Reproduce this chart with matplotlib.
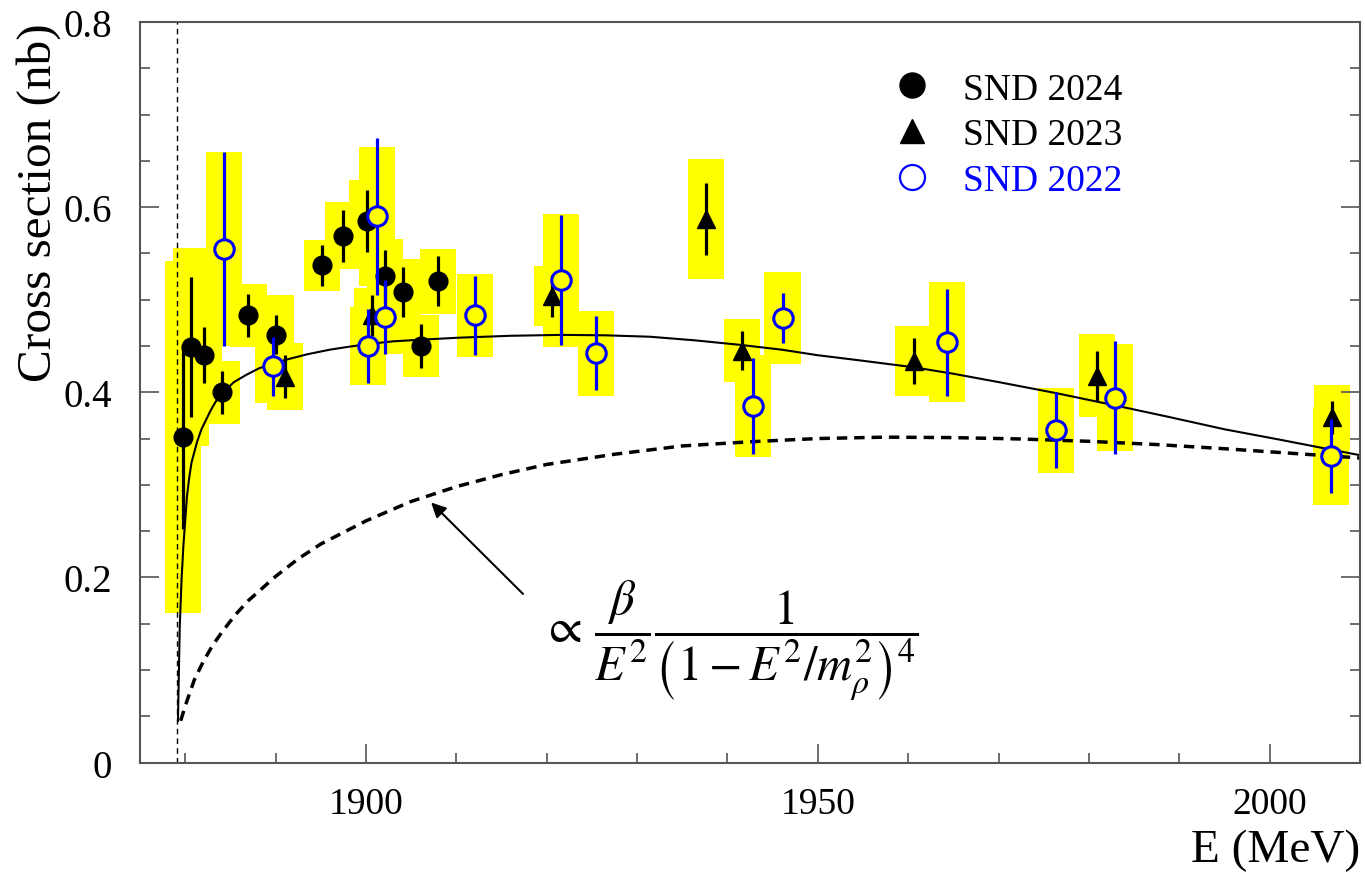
import numpy as np
from matplotlib import pyplot as plt
from matplotlib.lines import Line2D
from matplotlib.ticker import MultipleLocator

plt.rcParams['font.family'] = ['Liberation Serif', 'DejaVu Serif']
plt.rcParams['mathtext.fontset'] = 'stix'

# n nbar threshold, MeV
E_thr = 1879.13

# SND 2024 (filled circles)
E24 = [1879.75, 1880.6, 1882.05, 1884.05, 1887.0, 1890.0, 1895.1, 1897.5, 1900.1, 1902.1, 1904.1, 1906.05, 1908.0]
s24 = [0.352, 0.449, 0.440, 0.400, 0.483, 0.462, 0.537, 0.569, 0.585, 0.526, 0.508, 0.450, 0.520]
stat24 = [0.100, 0.076, 0.030, 0.023, 0.023, 0.021, 0.022, 0.028, 0.033, 0.028, 0.027, 0.024, 0.027]
box24 = [0.190, 0.107, 0.030, 0.034, 0.034, 0.043, 0.028, 0.036, 0.044, 0.040, 0.036, 0.033, 0.035]

# SND 2023 (triangles)
E23 = [1891.0, 1900.7, 1920.6, 1937.65, 1941.6, 1960.6, 1980.9, 2006.9]
s23 = [0.417, 0.483, 0.504, 0.587, 0.445, 0.434, 0.418, 0.373]
stat23 = [0.023, 0.022, 0.023, 0.039, 0.021, 0.025, 0.027, 0.018]
box23 = [0.036, 0.030, 0.032, 0.065, 0.034, 0.038, 0.045, 0.035]

# SND 2022 (open circles)
E22 = [1884.3, 1889.7, 1900.2, 1901.2, 1902.1, 1912.1, 1921.6, 1925.5, 1942.8, 1946.1, 1964.3, 1976.4, 1982.85, 2006.8]
s22 = [0.555, 0.428, 0.450, 0.590, 0.481, 0.483, 0.521, 0.442, 0.385, 0.480, 0.454, 0.359, 0.394, 0.331]
stat22 = [0.105, 0.032, 0.040, 0.085, 0.040, 0.043, 0.070, 0.040, 0.052, 0.027, 0.058, 0.041, 0.061, 0.040]
box22 = [0.105, 0.040, 0.042, 0.075, 0.040, 0.045, 0.072, 0.046, 0.055, 0.050, 0.065, 0.046, 0.058, 0.053]

# fit curve (solid)
E_fit = [1879.2, 1879.4, 1879.6, 1879.8, 1880.2, 1880.45, 1880.7, 1881.3, 1881.8, 1882.4, 1882.8,
         1883.2, 1883.6, 1884.1, 1885.4, 1886.8, 1888.2, 1889.7, 1891.5, 1893.5, 1896.0, 1898.0,
         1900.2, 1903.0, 1906.5, 1910.4, 1916.0, 1921.7, 1926.5, 1931.4, 1936.5, 1941.6, 1946.0,
         1950.0, 1955.0, 1960.6, 1965.0, 1970.0, 1976.4, 1982.8, 1989.0, 1995.0, 2001.0, 2006.8,
         2010.0]
s_fit = [0.045, 0.147, 0.198, 0.234, 0.288, 0.308, 0.324, 0.346, 0.360, 0.372, 0.380,
         0.387, 0.393, 0.399, 0.411, 0.419, 0.426, 0.431, 0.436, 0.441, 0.446, 0.449,
         0.452, 0.455, 0.457, 0.459, 0.461, 0.462, 0.4615, 0.460, 0.456, 0.451, 0.446,
         0.440, 0.434, 0.427, 0.420, 0.411, 0.399, 0.386, 0.373, 0.360, 0.349, 0.338,
         0.332]

# dipole-like shape (dashed)
E_dip = [1879.5, 1880.0, 1881.0, 1882.0, 1883.0, 1884.0, 1885.5, 1887.0, 1890.0, 1892.5, 1895.0,
         1900.0, 1905.0, 1910.0, 1915.0, 1920.0, 1927.5, 1935.0, 1942.5, 1950.0, 1957.5, 1965.0,
         1972.5, 1980.0, 1987.5, 1995.0, 2002.5, 2010.0]
s_dip = [0.045, 0.061, 0.089, 0.109, 0.126, 0.140, 0.159, 0.175, 0.201, 0.220, 0.236,
         0.261, 0.282, 0.298, 0.311, 0.322, 0.333, 0.342, 0.3465, 0.350, 0.3515, 0.351,
         0.3495, 0.347, 0.3435, 0.339, 0.334, 0.329]

fig = plt.figure(figsize=(13.65, 8.79), dpi=100)
ax = fig.add_axes([140 / 1365, 1 - 763.5 / 879, 1220 / 1365, 740.5 / 879])

# yellow boxes: total uncertainty
for E, s, b in [(E24, s24, box24), (E23, s23, box23), (E22, s22, box22)]:
    s = np.array(s)
    b = np.array(b)
    ax.bar(E, 2 * b, width=4.0, bottom=s - b, color='#ffff00', linewidth=0, zorder=1)

ax.axvline(E_thr, color='k', lw=1.0, ls=(0, (4, 3)), zorder=2)
ax.plot(E_fit, s_fit, color='k', lw=1.5, zorder=2)
ax.plot(E_dip, s_dip, color='k', lw=2.5, ls=(0, (3, 2)), zorder=2)

ax.errorbar(E24, s24, yerr=stat24, fmt='o', color='k', ms=13.5, elinewidth=2.3, capsize=0, zorder=4)
ax.errorbar(E23, s23, yerr=stat23, fmt='^', color='k', ms=13, elinewidth=2.3, capsize=0, zorder=4)
ax.errorbar(E22, s22, yerr=stat22, fmt='o', color='#0000ff', mfc='#ffff00', mec='#0000ff', ms=14,
            mew=2.2, elinewidth=2.3, capsize=0, zorder=5)

ax.annotate('', xy=(1907.0, 0.283), xytext=(1917.6, 0.180),
            arrowprops=dict(arrowstyle='-|>', color='k', lw=1.5, mutation_scale=22))
ax.text(1919.4, 0.133, r'$\propto\,\dfrac{\beta}{E^2}\dfrac{1}{\left(1-E^2/m_\rho^2\right)^4}$',
        fontsize=35, va='center', ha='left')

handles = [Line2D([], [], marker='o', ls='none', color='k', ms=18),
           Line2D([], [], marker='^', ls='none', color='k', ms=17),
           Line2D([], [], marker='o', ls='none', mfc='none', mec='#0000ff', mew=1.6, ms=18)]
leg = ax.legend(handles, ['SND 2024', 'SND 2023', 'SND 2022'], loc='upper left',
                bbox_to_anchor=(0.587, 0.978), frameon=False, fontsize=27,
                handlelength=1.2, handletextpad=0.75, labelspacing=0.3)
for t, c in zip(leg.get_texts(), ['k', 'k', '#0000ff']):
    t.set_color(c)

ax.set_xlim(1875, 2010)
ax.set_ylim(0, 0.8)
ax.xaxis.set_major_locator(MultipleLocator(50))
ax.xaxis.set_minor_locator(MultipleLocator(10))
ax.yaxis.set_major_locator(MultipleLocator(0.2))
ax.yaxis.set_minor_locator(MultipleLocator(0.05))
ax.yaxis.set_major_formatter(lambda v, p: '0' if v == 0 else '%.1f' % v)

ax.tick_params(which='both', direction='in', right=True, color='#555555', width=1.2)
ax.tick_params(which='major', length=14)
ax.tick_params(which='minor', length=7)
ax.tick_params(axis='x', labelsize=27, pad=17)
ax.tick_params(axis='y', labelsize=28, pad=20)
for sp in ax.spines.values():
    sp.set_color('#555555')
    sp.set_linewidth(1.5)

ax.set_xlabel('E (MeV)', fontsize=34, loc='right', labelpad=6)
ax.set_ylabel('Cross section (nb)', fontsize=35.5, loc='top', labelpad=2)

fig.savefig('out.png', dpi=100)
